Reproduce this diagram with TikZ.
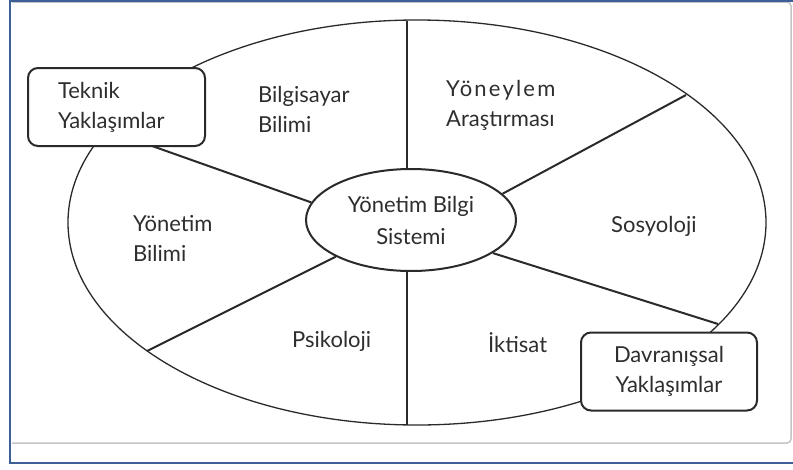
\documentclass[tikz,border=0pt]{standalone}
\usepackage{fontspec}
\setmainfont{Lato}
\newfontfamily\trackedfont[LetterSpace=10]{Lato}
\usetikzlibrary{shapes.geometric}
\definecolor{frameblue}{HTML}{3D5E96}
\definecolor{panelgray}{HTML}{C4C4C4}
\definecolor{ink}{HTML}{2A2A2A}
\definecolor{labelink}{HTML}{2E2E2E}
\tikzset{
  rimline/.style={draw=ink, line width=1.3pt},
  spoke/.style={draw=ink, line width=2pt},
  hub/.style={ellipse, draw=ink, line width=2pt, fill=white, inner sep=0pt,
    minimum width=210pt, minimum height=102pt, align=center, text=labelink,
    font=\fontsize{22}{32}\selectfont},
  groupbox/.style={rectangle, rounded corners=10pt, draw=ink, line width=2pt,
    fill=white, minimum height=78pt, text=labelink, inner ysep=0pt,
    font=\fontsize{22}{30}\selectfont},
  field/.style={inner sep=0pt, align=left, text=labelink,
    font=\fontsize{22}{30}\selectfont},
}
\begin{document}
\begin{tikzpicture}[x=1pt,y=-1pt]
\useasboundingbox (0,0) rectangle (793,469);

% page frame and panel
\draw[panelgray, line width=1.5pt, rounded corners=4pt]
  (12,443) -- (791,443) -- (791,2) -- (12,2);
\draw[frameblue, line width=2pt] (800,0.8) -- (10,0.8) -- (10,463) -- (800,463);

% outer ring
\node[ellipse, rimline, inner sep=0pt, minimum width=698pt, minimum height=405pt]
  (rim) at (417,222.5) {};

% spoke end points on the ring
\coordinate (ulEnd) at (107,130);
\coordinate (urEnd) at (686,95);
\coordinate (llEnd) at (147,351);
\coordinate (lrEnd) at (718,324);
\coordinate (topEnd) at (407,20.5);
\coordinate (botEnd) at (407,424.5);

% central hub
\node[hub] (hub) at (411,220) {Yönetim Bilgi\\Sistemi};

% spokes
\draw[spoke] (hub.170) -- (ulEnd);
\draw[spoke] (hub.16) -- (urEnd);
\draw[spoke] (hub.206) -- (llEnd);
\draw[spoke] (hub.338) -- (lrEnd);
\draw[spoke, line width=1.5pt] (topEnd) -- (topEnd |- hub.north);
\draw[spoke, line width=1.5pt] (botEnd) -- (botEnd |- hub.south);

% approach boxes
\node[groupbox, minimum width=177pt, text width=117pt, inner xsep=30pt, align=left]
  (tech) at (116.5,107) {Teknik\\Yaklaşımlar};
\node[groupbox, minimum width=176pt, align=center]
  (behav) at (669,371.5) {Davranışsal\\Yaklaşımlar};

% discipline labels
\node[field, anchor=north west] (cs) at (258,86) {Bilgisayar\\Bilimi};
\node[field, anchor=north west] (or) at (446,80) {{\trackedfont Yöneylem}\\Araştırması};
\node[field, anchor=base west] (soc) at (611,232) {Sosyoloji};
\node[field, anchor=north west] (ms) at (133,215) {Yönetim\\Bilimi};
\node[field, anchor=base west] (psy) at (292,347) {Psikoloji};
\node[field, anchor=base west] (eco) at (488,352) {İktisat};
\end{tikzpicture}
\end{document}
